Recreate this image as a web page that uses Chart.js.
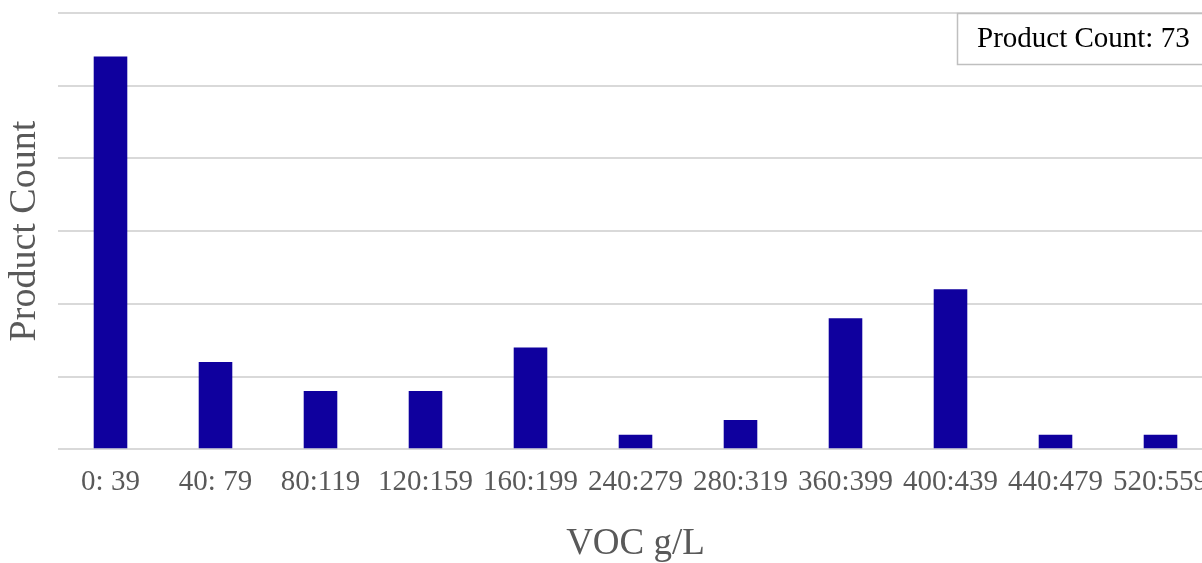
<!DOCTYPE html>
<html>
<head>
<meta charset="utf-8">
<script src="https://cdn.jsdelivr.net/npm/chart.js@4/dist/chart.umd.min.js"></script>
<style>
  html, body { margin: 0; padding: 0; background: #fff; overflow: hidden; }
  /* the plot runs a little past the right edge, as in the original */
  #wrap { position: relative; width: 1202px; height: 563px; overflow: hidden; }
</style>
</head>
<body>
<div id="wrap"><canvas id="vocChart" width="1213" height="563"></canvas></div>
<script>
const vocRanges = ['0: 39', '40: 79', '80:119', '120:159', '160:199', '240:279', '280:319', '360:399', '400:439', '440:479', '520:559']
const productCounts = [27, 6, 4, 4, 7, 1, 2, 9, 11, 1, 1]
const yMax = 30
const yStep = 5

const serif = "'Liberation Serif', 'Times New Roman', serif"
const total = productCounts.reduce((a, b) => a + b, 0)

// box in the top right corner with the total
const countBox = {
  id: 'countBox',
  afterDraw(chart) {
    const ctx = chart.ctx
    const x = 957, y = 13, w = 260, h = 51
    ctx.save()
    ctx.fillStyle = '#fff'
    ctx.fillRect(x, y, w, h)
    ctx.strokeStyle = '#bfbfbf'
    ctx.lineWidth = 1.5
    ctx.strokeRect(x + 0.5, y + 0.5, w, h)
    ctx.fillStyle = '#000'
    ctx.font = '29px ' + serif
    ctx.textBaseline = 'middle'
    ctx.fillText('Product Count: ' + total, 977, y + h / 2 + 1)
    ctx.restore()
  }
}

new Chart(document.getElementById('vocChart'), {
  type: 'bar',
  data: {
    labels: vocRanges,
    datasets: [{
      label: 'Product Count',
      data: productCounts,
      backgroundColor: '#0f009e',
      borderWidth: 0,
      categoryPercentage: 1,
      barPercentage: 0.32
    }]
  },
  options: {
    responsive: false,
    animation: false,
    layout: { padding: { top: 13, right: 0, bottom: 0, left: 0 } },
    plugins: {
      legend: { display: false },
      tooltip: { enabled: false }
    },
    scales: {
      x: {
        grid: { display: false, tickLength: 13 },
        border: { display: false },
        ticks: {
          color: '#595959',
          font: { family: serif, size: 29 },
          padding: 3,
          maxRotation: 0,
          autoSkip: false
        },
        title: {
          display: true,
          text: 'VOC g/L',
          color: '#595959',
          font: { family: serif, size: 37, lineHeight: 1 },
          padding: { top: 23, bottom: 0 }
        }
      },
      y: {
        min: 0,
        max: yMax,
        ticks: { display: false, stepSize: yStep },
        grid: { color: '#d9d9d9', lineWidth: 2, drawTicks: false },
        border: { display: false },
        title: {
          display: true,
          text: 'Product Count',
          color: '#595959',
          font: { family: serif, size: 38, lineHeight: 1 },
          padding: { top: 6, bottom: 14 }
        }
      }
    }
  },
  plugins: [countBox]
})
</script>
</body>
</html>
